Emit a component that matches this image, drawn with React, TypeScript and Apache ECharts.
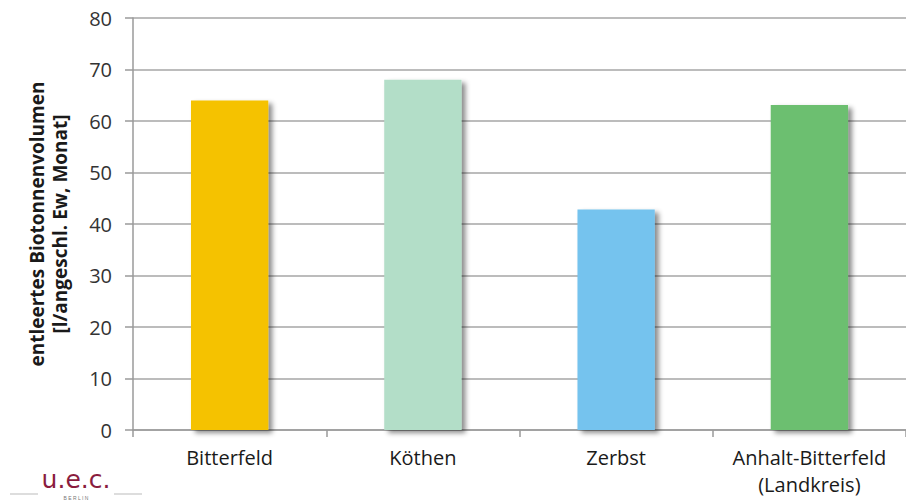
import React, { useEffect, useRef } from "react";
import * as echarts from "echarts";

const categories = ["Bitterfeld", "Köthen", "Zerbst", "Anhalt-Bitterfeld\n(Landkreis)"];
const values = [64, 68, 42.8, 63.1];
const barColors = ["#F5C200", "#B3DEC8", "#75C3EE", "#6CBF6F"];
const yTicks = { min: 0, max: 80, interval: 10 };
const yName = "entleertes Biotonnenvolumen\n[l/angeschl. Ew, Monat]";

export default function App() {
  const ref = useRef<HTMLDivElement>(null);
  useEffect(() => {
    if (!ref.current) return;
    const chart = echarts.init(ref.current, undefined, { renderer: "svg" });
    const font = "'Open Sans', 'Noto Sans', sans-serif";
    chart.setOption({
      animation: false,
      textStyle: { fontFamily: font },
      grid: { left: 133, right: 0, top: 18, bottom: 70 },
      xAxis: {
        type: "category",
        data: categories,
        axisLine: { lineStyle: { color: "#9A9A9A", width: 1.5 } },
        axisTick: { show: true, interval: 0, length: 7, lineStyle: { color: "#9A9A9A", width: 1.5 } },
        axisLabel: { interval: 0, hideOverlap: false, color: "#1a1a1a", fontSize: 20, fontFamily: font, margin: 14, lineHeight: 27 },
        splitLine: { show: false },
      },
      yAxis: {
        type: "value",
        min: yTicks.min,
        max: yTicks.max,
        interval: yTicks.interval,
        name: yName,
        nameLocation: "middle",
        nameGap: 62,
        nameRotate: 90,
        nameTextStyle: { color: "#1a1a1a", fontSize: 19, fontWeight: "bold", fontFamily: font, lineHeight: 23 },
        axisLine: { show: true, lineStyle: { color: "#9A9A9A", width: 1.5 } },
        axisTick: { show: true, length: 8, lineStyle: { color: "#9A9A9A", width: 1.5 } },
        axisLabel: { color: "#333", fontSize: 20, fontFamily: font, margin: 21 },
        splitLine: { show: true, lineStyle: { color: "#A6A6A6", width: 1.5 } },
      },
      series: [
        {
          type: "bar",
          data: values.map((v, i) => ({
            value: v,
            itemStyle: {
              color: barColors[i],
              shadowColor: "rgba(0,0,0,0.45)",
              shadowBlur: 5,
              shadowOffsetX: 4,
              shadowOffsetY: 3,
            },
          })),
          barWidth: "40%",
        },
      ],
      graphic: [
        { type: "line", shape: { x1: 10, y1: 494, x2: 38, y2: 494 }, style: { stroke: "#bbb", lineWidth: 1 } },
        { type: "line", shape: { x1: 114, y1: 494, x2: 142, y2: 494 }, style: { stroke: "#bbb", lineWidth: 1 } },
        {
          type: "text",
          x: 76,
          y: 492,
          style: {
            text: "u.e.c.",
            fill: "#8A1C3E",
            font: "25px 'DejaVu Sans', sans-serif",
            textAlign: "center",
            textVerticalAlign: "bottom",
          },
        },
        {
          type: "text",
          x: 76,
          y: 500,
          style: {
            text: "B E R L I N",
            fill: "#777",
            font: "5px sans-serif",
            textAlign: "center",
            textVerticalAlign: "bottom",
          },
        },
      ],
    });
    return () => chart.dispose();
  }, []);
  return <div ref={ref} style={{ width: 906, height: 500, position: "absolute", left: 0, top: 0 }} />;
}
